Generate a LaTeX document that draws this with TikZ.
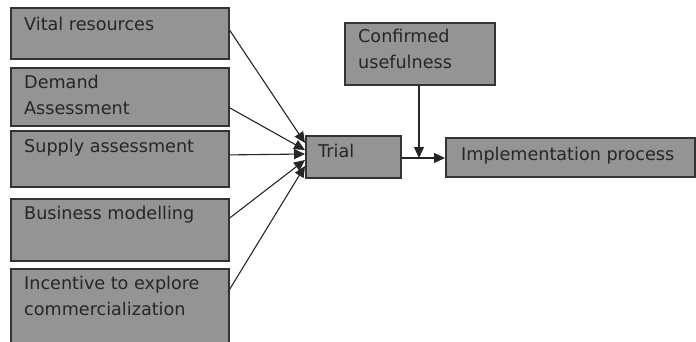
\documentclass[tikz,border=0pt]{standalone}
\usepackage{fontspec}
\setmainfont{DejaVu Sans}
\usetikzlibrary{arrows.meta}
\definecolor{boxfill}{HTML}{949494}
\definecolor{boxline}{HTML}{333333}
\begin{document}
\begin{tikzpicture}[x=1pt,y=-1pt,
  box/.style={draw=boxline,fill=boxfill,line width=1.8pt,inner sep=0pt,anchor=north west},
  lbl/.style={anchor=north west,inner sep=0pt,align=left,font=\fontsize{17.6}{26}\selectfont,text=black!85},
  conn/.style={line width=1.1pt,draw=black!85,-{Triangle[length=11pt,width=10pt]}}]
\useasboundingbox (0,0) rectangle (696,341);
\begin{scope}
\clip (0,0) rectangle (696,341);
\node[box,minimum width=218pt,minimum height=51pt] (v) at (10,7) {};
\node[box,minimum width=218pt,minimum height=58pt] (d) at (10,67) {};
\node[box,minimum width=218pt,minimum height=56pt] (s) at (10,130) {};
\node[box,minimum width=218pt,minimum height=62pt] (b) at (10,198) {};
\node[box,minimum width=218pt,minimum height=80pt] (i) at (10,268) {};
\node[box,minimum width=95pt,minimum height=42pt] (t) at (305,135) {};
\node[box,minimum width=150pt,minimum height=62pt] (c) at (344,22) {};
\node[box,minimum width=249pt,minimum height=39pt] (p) at (445,137) {};
\end{scope}
\node[lbl] at ([xshift=14pt,yshift=-10pt]v.north west) {Vital resources};
\node[lbl] at ([xshift=14pt,yshift=-8pt]d.north west) {Demand\\Assessment};
\node[lbl] at ([xshift=14pt,yshift=-9pt]s.north west) {Supply assessment};
\node[lbl] at ([xshift=14pt,yshift=-8pt]b.north west) {Business modelling};
\node[lbl] at ([xshift=14pt,yshift=-8pt]i.north west) {Incentive to explore\\commercialization};
\node[lbl] at ([xshift=13pt,yshift=-9pt]t.north west) {Trial};
\node[lbl] at ([xshift=14pt,yshift=-7pt]c.north west) {Confirmed\\usefulness};
\node[lbl] at ([xshift=16pt,yshift=-10pt]p.north west) {Implementation process};
\coordinate (t1) at (305,143);
\coordinate (t2) at (305,150);
\coordinate (t3) at (305,154);
\coordinate (t4) at (305,160);
\coordinate (t5) at (305,166);
\coordinate (j) at (419,158);
\draw[conn] (v.east) ++(0,-3) -- (t1);
\draw[conn] (d.east) ++(0,11) -- (t2);
\draw[conn] (s.east) ++(0,-4) -- (t3);
\draw[conn] (b.east) ++(0,-12) -- (t4);
\draw[conn] (228,292) -- (t5);
\draw[conn] (c.south -| j) -- (j);
\draw[conn] (t.east |- j) -- (p.west |- j);
\end{tikzpicture}
\end{document}
